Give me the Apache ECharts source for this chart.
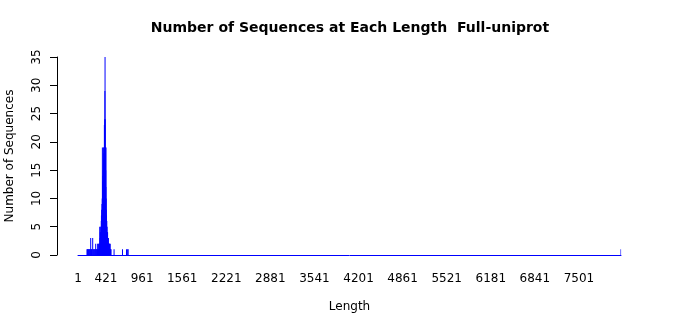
<!DOCTYPE html>
<html>
<head>
<meta charset="utf-8">
<script src="https://cdn.jsdelivr.net/npm/echarts@6/dist/echarts.min.js"></script>
<style>
html,body{margin:0;padding:0;background:#fff;}
#c{width:700px;height:315px;}
</style>
</head>
<body>
<div id="c"></div>
<script>
// Sequence lengths (1 .. maxLength) and counts of sequences with non-zero count
const maxLength = 8131;
const lengths = [136,142,149,156,163,170,178,185,191,197,204,212,221,228,236,244,252,259,266,273,281,286,290,295,298,302,306,310,313,316,319,322,326,329,331,333,335,
  338,341,344,347,350,352,356,358,360,362,364,366,368,370,372,374,376,378,380,382,384,386,388,390,392,394,396,398,400,402,404,406,408,410,412,414,416,418,420,422,424,426,428,430,432,434,436,438,440,442,444,446,448,450,452,454,456,458,460,463,465,468,470,473,476,480,484,488,
  496,541,667,727,745,751,8131];
const counts = [1,1,1,1,1,1,1,1,3,1,1,1,3,1,1,1,1,1,2,1,1,1,1,2,1,1,2,1,1,2,1,2,5,2,3,2,4,
  3,5,4,5,6,7,8,6,9,7,10,19,11,9,13,12,14,15,19,16,15,17,18,19,17,19,23,21,19,24,29,35,24,19,16,19,15,12,19,10,8,6,7,5,6,4,5,3,4,3,4,3,2,3,2,2,3,2,2,1,2,2,1,2,1,1,2,1,1,1,
  1,1,1,1,1,1,1];
const tickLabels = ['1','421','961','1561','2221','2881','3541','4201','4861','5521','6181','6841','7501'];
const yTicks = {min:0, max:35, interval:5};

const categories = [];
for (let i = 1; i <= maxLength; i++) categories.push(String(i));
const seriesData = lengths.map((l, i) => [String(l), counts[i]]);

const chart = echarts.init(document.getElementById('c'), null, {renderer:'canvas'});
const font = 'DejaVu Sans';
chart.setOption({
  animation:false,
  backgroundColor:'#ffffff',
  title:{
    text:'Number of Sequences at Each Length  Full-uniprot',
    left:'center', top:21, padding:0,
    textStyle:{fontFamily:font, fontSize:14, fontWeight:'bold', color:'#000'}
  },
  grid:{left:78, right:79, top:57, bottom:60, containLabel:false, outerBoundsMode:'none'},
  xAxis:{
    type:'category', data:categories, boundaryGap:false,
    name:'Length', nameLocation:'middle', nameGap:46,
    nameTextStyle:{fontFamily:font, fontSize:12, color:'#000'},
    axisLine:{show:true, lineStyle:{color:'#0000ff', width:1}},
    axisTick:{show:false},
    axisLabel:{
      interval:(idx, val) => tickLabels.indexOf(val) >= 0,
      hideOverlap:false, margin:18,
      fontFamily:font, fontSize:12, color:'#000'
    },
    splitLine:{show:false}
  },
  yAxis:{
    type:'value', min:yTicks.min, max:yTicks.max, interval:yTicks.interval,
    offset:21,
    name:'Number of Sequences', nameLocation:'middle', nameGap:41,
    nameTextStyle:{fontFamily:font, fontSize:12, color:'#000'},
    axisLine:{show:true, lineStyle:{color:'#000', width:1}},
    axisTick:{show:true, length:7, lineStyle:{color:'#000'}},
    axisLabel:{rotate:90, margin:14, fontFamily:font, fontSize:12, color:'#000'},
    splitLine:{show:false}
  },
  series:[{
    type:'bar', data:seriesData, barWidth:1, large:false,
    itemStyle:{color:'#0000ff'}
  }]
});
</script>
</body>
</html>
